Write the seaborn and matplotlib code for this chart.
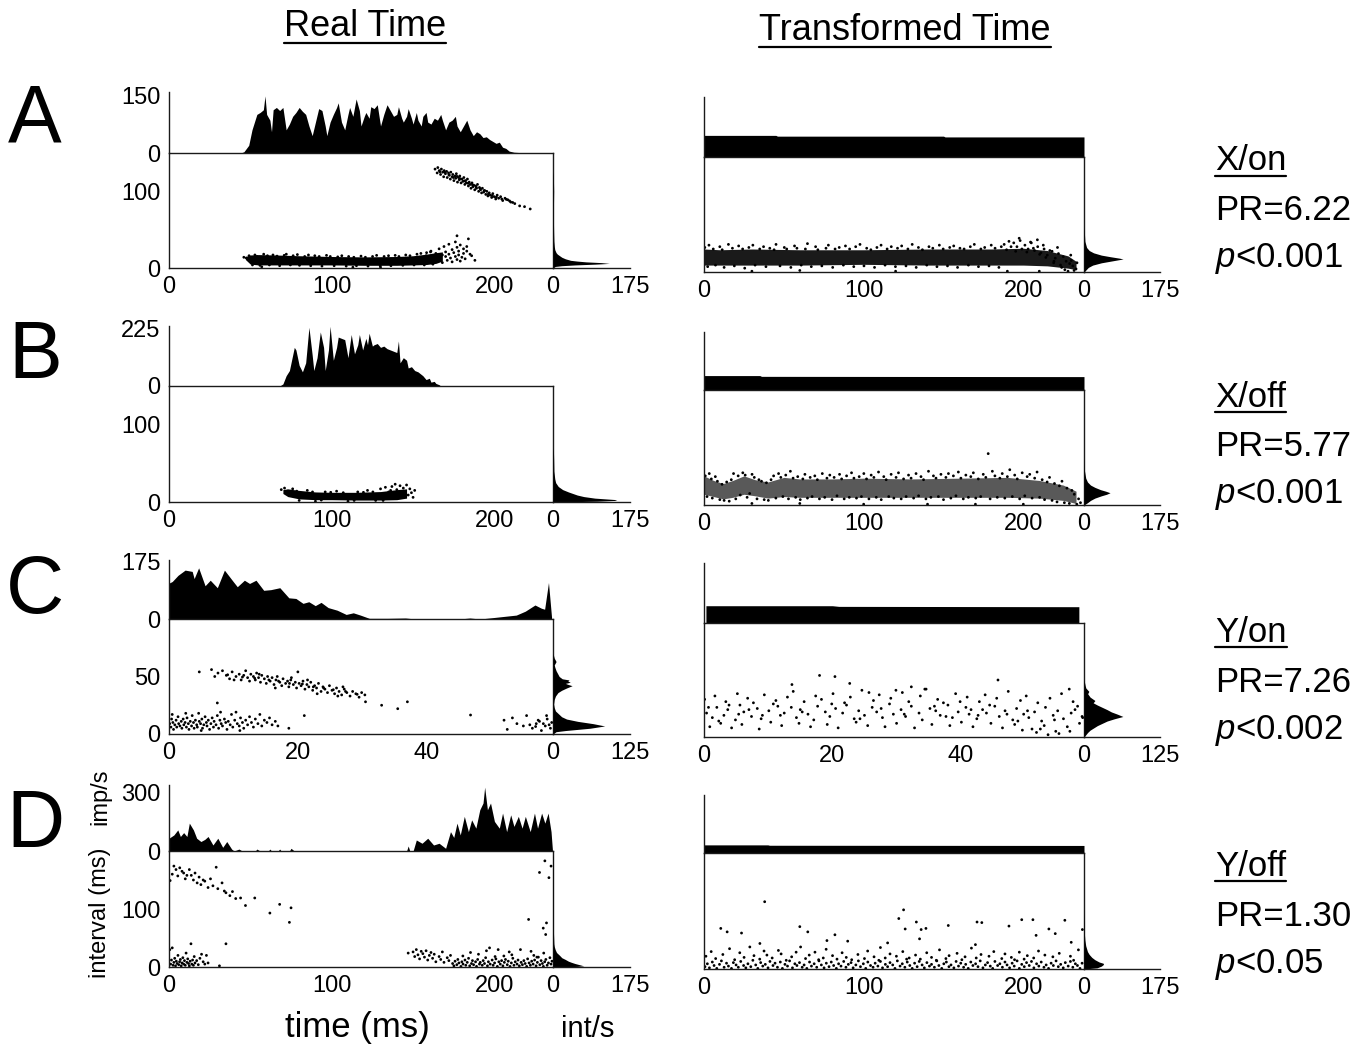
import numpy as np
import matplotlib
matplotlib.use("Agg")
import matplotlib.pyplot as plt
from matplotlib.lines import Line2D
import seaborn as sns

# ---------------- data ----------------
# PSTHs in real time (time ms, rate imp/s)
a_psth_t = [0, 44, 46, 49, 51, 54, 56, 58, 59, 60, 62, 63, 64, 66, 68, 70, 72, 74, 76, 78, 80, 82, 84, 86, 88,
            90, 92, 94, 96, 97, 99, 101, 103, 104, 106, 108, 110, 111, 113, 115, 117, 118, 120, 121, 123, 124,
            126, 128, 130, 132, 134, 136, 138, 140, 141, 143, 144, 146, 147, 149, 150, 152, 153, 155, 156, 158,
            159, 161, 163, 165, 167, 168, 170, 172, 174, 176, 177, 179, 181, 183, 185, 187, 189, 191, 193, 195,
            197, 199, 201, 203, 205, 207, 209, 212, 216, 225, 236]
a_psth_r = [0, 0, 3, 20, 60, 100, 105, 112, 148, 100, 85, 55, 112, 118, 110, 118, 60, 75, 95, 105, 118, 108,
            100, 70, 45, 80, 115, 110, 70, 45, 80, 100, 118, 130, 80, 60, 100, 118, 95, 140, 110, 70, 95, 105,
            90, 120, 115, 125, 70, 100, 125, 110, 95, 100, 120, 90, 80, 95, 115, 90, 75, 105, 85, 70, 95, 105,
            80, 75, 90, 85, 100, 85, 60, 80, 85, 95, 70, 55, 70, 85, 60, 45, 55, 50, 40, 42, 35, 30, 25, 28,
            15, 12, 5, 2, 1, 1, 0]

b_psth_t = [0, 68, 70, 72, 74, 76, 77, 78, 80, 82, 84, 86, 88, 89, 91, 93, 95, 96, 98, 99, 101, 103, 104, 106,
            108, 110, 112, 114, 116, 117, 119, 121, 122, 123, 125, 126, 128, 130, 132, 134, 136, 138, 140, 141,
            142, 144, 146, 147, 149, 151, 153, 154, 156, 158, 160, 161, 163, 164, 166, 167, 236]
b_psth_r = [0, 0, 8, 40, 60, 120, 150, 140, 80, 55, 90, 228, 120, 60, 110, 210, 150, 60, 140, 232, 100, 150,
            190, 185, 180, 110, 200, 125, 160, 200, 140, 185, 160, 205, 155, 160, 165, 150, 155, 145, 140, 135,
            130, 175, 90, 110, 100, 70, 75, 60, 55, 50, 40, 25, 30, 15, 18, 10, 5, 0, 0]

c_psth_t = [0, 0.5, 1.4, 2.5, 3.6, 3.9, 4.6, 5.6, 6.4, 7.5, 8.6, 10, 10.6, 11.7, 12.5, 13.5, 14.7, 15.8, 17.2,
            18.6, 19.7, 20.8, 21.7, 22.7, 23.6, 24.7, 26.1, 27.5, 28.6, 29.7, 31.1, 33.9, 36.7, 38.3, 45, 46.7,
            48.3, 51.1, 53.9, 55.3, 56.8, 57.8, 58.3, 58.9, 59.4]
c_psth_r = [110, 115, 134, 150, 146, 124, 157, 102, 119, 96, 150, 114, 99, 119, 109, 119, 88, 90, 96, 65, 63,
            48, 53, 41, 51, 35, 27, 14, 19, 12, 2, 2, 3, 0, 0, 3, 0, 6, 12, 24, 43, 33, 30, 112, 0]

d_psth_t = [0, 3, 5.4, 7, 9, 11, 12.5, 15, 17, 19.6, 22, 24, 27, 30, 33, 35.5, 38.5, 40, 43, 45, 53, 54, 56, 61,
            62, 63, 67, 68, 69, 74, 75, 77, 146, 147, 148, 150, 152, 155.5, 159, 162.6, 166, 170, 173, 175, 177,
            179, 181.5, 184, 186, 188.6, 191, 193, 194, 195.7, 197.6, 200, 203, 205, 207.5, 210, 212, 214.7,
            217, 219, 222, 224.6, 226.5, 229, 231, 233, 234.8, 235.7]
d_psth_r = [66, 83, 109, 75, 95, 75, 144, 109, 66, 49, 60, 75, 31, 66, 19, 49, 10, 0, 10, 0, 0, 10, 0, 0, 10, 0,
            0, 10, 0, 0, 14, 0, 0, 26, 0, 0, 57, 40, 66, 31, 40, 14, 100, 70, 144, 83, 179, 100, 161, 118, 213,
            248, 330, 213, 248, 153, 118, 196, 100, 187, 127, 179, 118, 179, 100, 196, 118, 196, 144, 196, 100, 0]

# flat PSTHs in transformed time
a_bar_t = [0, 45, 46, 150, 151, 238]
a_bar_r = [56, 56, 54, 54, 52, 52]
b_bar_t = [0, 35, 36, 238]
b_bar_r = [56, 56, 53, 52]
c_bar_t = [0.3, 20, 21, 58.4]
c_bar_r = [53, 53, 51, 50]
d_bar_t = [0, 40, 41, 238]
d_bar_r = [42, 42, 40, 39]

# interval histograms (interval ms, int/s)
a_lm_y = [0, 2, 3, 4, 5, 6, 7, 8, 9, 10, 12, 14, 16, 18, 20, 24, 28, 35, 45, 60, 80, 100, 120, 125]
a_lm_x = [0, 5, 20, 50, 95, 128, 110, 75, 55, 40, 28, 20, 15, 10, 7, 4, 3, 2, 1.5, 1, 1, 1.5, 0.8, 0]
a_rm_y = [0, 3, 6, 9, 12, 14, 16, 17, 18, 20, 22, 25, 28, 32, 40, 60]
a_rm_x = [0, 5, 10, 20, 40, 60, 80, 90, 82, 60, 40, 22, 12, 6, 2, 0]
b_lm_y = [0, 1, 2, 3, 4, 5, 7, 9, 11, 13, 16, 20, 25, 30, 40, 55, 65, 70]
b_lm_x = [0, 100, 140, 145, 120, 95, 70, 55, 45, 35, 22, 12, 6, 4, 2, 1.5, 1, 0]
b_rm_y = [0, 3, 6, 9, 12, 14, 16, 18, 20, 23, 26, 30, 35, 45, 60]
b_rm_x = [0, 8, 15, 25, 40, 52, 60, 50, 38, 25, 15, 8, 4, 1, 0]
c_lm_y = [0, 2, 3, 5, 7, 9, 11, 13, 15, 18, 20, 23, 26, 30, 33, 36, 38, 40, 42, 43, 44, 45, 46, 47, 48, 50,
          52, 55, 58, 60, 63, 66, 70]
c_lm_x = [0, 5, 20, 60, 84, 65, 40, 22, 14, 8, 4, 2, 1, 2, 4, 8, 14, 22, 31, 25, 20, 28, 24, 26, 15, 10, 8, 5,
          3, 2, 5, 2, 0]
c_rm_y = [0, 2, 4, 6, 8, 10, 12, 14, 16, 18, 20, 22, 24, 26, 28, 30, 32, 35, 38, 40, 43, 45, 50]
c_rm_x = [0, 3, 6, 10, 16, 22, 30, 38, 50, 64, 55, 45, 38, 30, 22, 15, 18, 10, 6, 8, 3, 2, 0]
d_lm_y = [0, 1, 2, 4, 6, 8, 10, 13, 16, 20, 25, 30, 35, 40, 60, 100, 150, 190, 195]
d_lm_x = [0, 55, 70, 60, 50, 42, 35, 28, 20, 15, 8, 5, 3, 2, 1, 1, 1, 1, 0]
d_rm_y = [0, 2, 5, 8, 10, 12, 16, 20, 25, 30, 35, 40, 50, 60, 80, 100]
d_rm_x = [0, 30, 40, 45, 44, 35, 25, 18, 12, 8, 6, 4, 2, 1, 1, 0]

# dense cores of the interval clouds (time, lower, upper)
a_lt_band_x = [47, 50, 55, 65, 80, 100, 120, 140, 150, 158, 164, 168]
a_lt_band_lo = [11, 5, 4, 4, 4, 4, 3.5, 3.5, 4, 4.5, 6, 9]
a_lt_band_hi = [15, 17, 17.5, 17, 16, 15, 14.5, 15, 16, 18, 20, 21]
a_rt_band_x = [0, 10, 30, 60, 100, 140, 180, 200, 215, 228, 233]
a_rt_band_lo = [9, 9, 9, 9, 10, 9, 9, 9, 8, 5, 3]
a_rt_band_hi = [30, 29, 30, 29, 29, 30, 30, 31, 28, 21, 14]
b_lt_band_x = [70, 73, 80, 90, 100, 115, 130, 140, 146]
b_lt_band_lo = [11, 7, 4, 3, 3, 2.5, 2.5, 3, 5]
b_lt_band_hi = [16, 17, 15, 13, 12.5, 12.5, 13.5, 16, 17]
b_rt_band_x = [0, 6, 12, 18, 25, 32, 40, 50, 60, 80, 100, 130, 160, 190, 210, 225, 233]
b_rt_band_lo = [14, 11, 8, 10, 14, 12, 9, 11, 10, 10, 10, 10, 10, 10, 9, 6, 2]
b_rt_band_hi = [38, 32, 28, 32, 38, 33, 30, 36, 34, 34, 35, 34, 35, 36, 32, 26, 18]

# individual intervals (time, interval)
a_lt_pts = [(47.5, 13), (49.2, 16), (51.3, 4), (52.8, 17), (54.1, 15), (55.9, 3.5), (58.2, 18), (60.5, 16),
            (61.7, 4), (63.9, 17), (66.4, 15.5), (68.0, 3), (70.8, 16.5), (72.1, 18), (74.6, 4), (76.3, 16),
            (78.9, 17.5), (80.2, 3.5), (83.4, 15), (85.7, 17), (87.1, 3), (89.6, 16), (92.3, 15), (94.0, 2.5),
            (96.8, 16.5), (99.1, 15), (101.5, 3), (103.7, 14.5), (106.2, 16), (108.9, 2.5), (110.4, 15),
            (113.6, 14), (115.2, 3), (118.0, 15.5), (120.7, 14), (122.3, 2.5), (125.1, 15), (127.6, 16.5),
            (129.8, 3), (132.2, 15), (134.9, 16), (136.4, 3), (139.0, 16.5), (141.3, 15), (143.7, 3.5),
            (145.5, 17), (148.1, 16), (150.6, 4), (152.4, 18), (154.8, 19), (156.9, 4), (158.3, 20),
            (160.7, 21), (162.2, 5), (46, 14), (57, 1.5), (130, 1), (113, 1),
            (155, 12), (157, 8), (158, 16), (160, 10), (161, 22), (162, 6), (163, 14), (164, 19), (165, 9),
            (166, 25), (167, 12), (168, 17), (168, 7), (169, 28), (170, 15), (170, 21), (171, 10), (172, 18),
            (172, 31), (173, 13), (174, 24), (174, 8), (175, 20), (176, 15), (176, 34), (177, 11), (177, 27),
            (177, 42), (178, 22), (178, 17), (179, 9), (179, 30), (180, 14), (181, 25), (181, 19), (182, 12),
            (183, 22), (184, 38), (185, 18), (186, 16), (183, 28), (188, 10),
            (163.5, 129), (164.8, 124), (165.2, 131), (166.1, 127), (166.9, 122), (167.4, 129), (168.2, 125),
            (168.8, 119), (169.1, 127), (169.9, 123), (170.6, 126), (171.0, 118), (171.8, 124), (172.3, 121),
            (172.9, 116), (173.2, 125), (174.0, 119), (174.4, 122), (175.1, 114), (175.7, 120), (176.2, 117),
            (176.6, 123), (177.3, 112), (177.9, 118), (178.4, 115), (178.7, 120), (179.5, 111), (180.1, 116),
            (180.6, 113), (181.2, 118), (181.8, 109), (182.3, 114), (182.7, 111), (183.4, 116), (184.0, 107),
            (184.5, 112), (185.1, 109), (185.6, 104), (186.2, 111), (186.8, 106), (187.3, 108), (187.9, 102),
            (188.5, 107), (189.0, 104), (189.6, 109), (190.3, 100), (190.8, 105), (191.5, 102), (192.1, 98),
            (192.6, 104), (193.4, 99), (194.0, 101), (194.7, 96), (195.3, 100), (196.0, 94), (196.8, 98),
            (197.5, 95), (198.3, 92), (199.0, 97), (199.9, 93), (200.8, 90), (201.7, 95), (202.6, 91),
            (203.8, 93), (205.1, 88), (206.5, 91), (208.2, 89), (210.0, 86), (212.5, 84), (215.5, 81),
            (218.5, 80), (222, 77), (166.5, 125.5), (169.5, 125), (172, 121.5), (174.8, 118), (177, 119.5),
            (179, 116.5), (181.5, 113.5), (183.8, 110.5), (186.5, 108.5), (188.8, 105.5), (191.2, 103.5),
            (193.7, 101), (196.3, 96.5), (198.7, 94.5), (201.2, 92.5), (204.5, 90), (207.3, 89.5),
            (209.3, 87.5), (211.2, 85.5)]
a_rt_pts = [(0.5, 32), (2.3, 7), (3.1, 35), (5.8, 30), (7.2, 9), (9.9, 33), (11.4, 29), (12.6, 6), (15.3, 36),
            (17.8, 31), (19.0, 8), (21.7, 34), (24.2, 30), (25.5, 5), (28.1, 32), (30.6, 35), (32.0, 9),
            (34.9, 30), (37.3, 33), (38.8, 7), (41.2, 31), (43.9, 29), (45.1, 36), (47.6, 8), (50.3, 32),
            (51.8, 30), (54.4, 6), (56.7, 34), (58.2, 31), (60.9, 9), (63.5, 30), (64.8, 37), (67.2, 7),
            (69.9, 33), (71.3, 29), (73.8, 8), (76.4, 31), (77.9, 35), (80.6, 6), (82.1, 30), (84.7, 32),
            (87.3, 9), (88.6, 34), (91.2, 30), (93.8, 7), (95.0, 33), (97.7, 36), (100.2, 8), (101.9, 31),
            (104.5, 29), (106.8, 6), (108.3, 32), (110.9, 35), (113.4, 9), (114.7, 30), (117.3, 33), (119.9, 7),
            (121.2, 31), (123.8, 34), (126.5, 8), (127.7, 30), (130.4, 36), (132.9, 6), (134.3, 32), (136.8, 29),
            (139.5, 9), (140.9, 33), (143.3, 31), (145.9, 7), (147.4, 35), (149.8, 30), (152.5, 8), (153.9, 32),
            (156.4, 34), (158.8, 6), (160.3, 31), (162.9, 30), (165.6, 9), (166.8, 33), (169.3, 36), (171.9, 7),
            (173.4, 30), (175.8, 32), (178.5, 8), (179.9, 35), (182.3, 31), (184.7, 6), (186.2, 33),
            (188, 36), (189.5, 29), (191, 40), (192.3, 33), (194, 38), (195.2, 27), (196, 33), (197.4, 44),
            (198, 41), (199.1, 30), (201, 35), (202.2, 26), (203, 30), (204.5, 39), (205, 38), (206.3, 31),
            (207, 28), (208.8, 42), (209, 33), (210.2, 23), (211, 25), (212.5, 35), (213, 30), (214.1, 19),
            (215, 22), (216.6, 28), (218, 27), (219.2, 14), (220, 18), (221.4, 32), (222, 24), (223.3, 9),
            (224, 6), (225, 20), (226, 3), (226.8, 14), (228, 1), (229, 11), (229.7, 22), (230, 15), (231, 8),
            (231.8, 2), (233, 4), (233.6, 12), (219, 12), (120, 1), (190, 1), (210, 1), (60, 2), (30, 1)]
b_lt_pts = [(69, 16), (71, 18), (73, 14), (76, 17), (80, 2), (85, 15), (90, 1), (96, 13), (103, 14), (110, 1),
            (116, 13), (122, 15), (127, 2), (130, 17), (133, 19), (135, 13), (137, 20), (138, 9), (139, 23),
            (140, 16), (141, 11), (142, 21), (143, 7), (144, 18), (145, 13), (146, 22), (147, 9), (148, 17),
            (149, 12), (150, 6), (151, 15), (78.5, 14), (88.2, 13), (93.6, 2.5), (99.4, 12.5), (107.1, 12),
            (113.8, 2), (119.5, 12.5), (125.3, 13), (131.6, 2), (136.2, 15)]
b_rt_pts = [(0.8, 38), (1.9, 11), (3.3, 41), (4.6, 34), (5.2, 9), (7.1, 37), (8.4, 31), (9.9, 7), (11.3, 27),
            (12.6, 6), (14.2, 30), (15.8, 5), (17.1, 33), (18.5, 41), (19.9, 8), (21.4, 38), (22.7, 13),
            (24.3, 42), (25.8, 39), (27.0, 10), (28.6, 15), (30.1, 40), (31.5, 36), (33.2, 8), (34.4, 33),
            (36.0, 31), (37.7, 7), (39.1, 29), (40.3, 6), (42.0, 33), (43.6, 38), (45.0, 9), (46.7, 41),
            (48.1, 36), (49.4, 11), (51.2, 39), (52.9, 8), (54.1, 44), (55.8, 35), (57.4, 10), (58.7, 37),
            (60.3, 7), (61.9, 34), (63.2, 40), (64.8, 9), (66.5, 36), (67.7, 11), (69.4, 38), (71.0, 33),
            (72.3, 8), (74.1, 41), (75.6, 10), (77.0, 35), (78.8, 39), (80.2, 7), (81.5, 36), (83.3, 12),
            (84.9, 40), (86.2, 34), (87.8, 8), (89.3, 38), (91.0, 10), (92.4, 42), (93.9, 35), (95.5, 9),
            (97.2, 37), (98.6, 11), (100.1, 41), (101.8, 34), (103.3, 8), (104.7, 39), (106.4, 36), (107.9, 10),
            (109.3, 43), (111.0, 7), (112.6, 37), (114.1, 33), (115.7, 11), (117.2, 40), (118.9, 9), (120.3, 36),
            (121.8, 42), (123.5, 8), (125.0, 34), (126.6, 11), (128.1, 39), (129.7, 35), (131.3, 9), (132.8, 41),
            (134.4, 12), (135.9, 37), (137.5, 33), (139.0, 8), (140.6, 44), (142.1, 10), (143.7, 38),
            (145.3, 35), (146.8, 11), (148.4, 40), (150.0, 7), (151.5, 36), (153.1, 41), (154.6, 9), (156.2, 38),
            (157.8, 12), (159.3, 43), (160.9, 35), (162.4, 8), (164.0, 39), (165.6, 10), (167.1, 37),
            (168.7, 42), (170.2, 9), (171.8, 34), (173.3, 11), (174.9, 40), (176.5, 36), (178.0, 67), (179.2, 8),
            (180.6, 44), (182.2, 38), (183.7, 10), (185.3, 35), (186.8, 41), (188.4, 9), (190.0, 37),
            (191.5, 46), (193.1, 11), (194.6, 39), (196.2, 34), (197.7, 8), (199.3, 42), (200.9, 12),
            (202.4, 37), (204.0, 40), (205.5, 9), (207.1, 35), (208.6, 43), (210.2, 10), (211.8, 33), (213.3, 7),
            (214.9, 30), (216.4, 36), (218.0, 6), (219.5, 28), (221.1, 4), (222.6, 25), (224.2, 31), (225.7, 3),
            (227.3, 22), (228.8, 2), (230.4, 19), (231.9, 14), (233.5, 1), (234.6, 8), (235.8, 3), (60, 2),
            (100, 1), (140, 1), (200, 1), (30, 2), (170, 1)]
c_lt_pts = [(4.7, 54), (6.6, 56), (7.1, 50), (7.6, 53), (8.3, 55), (8.9, 51), (9.4, 48), (9.8, 54), (10.4, 50),
            (10.9, 52), (11.2, 47), (11.6, 51), (11.9, 55), (12.2, 49), (12.5, 46), (12.7, 52), (13.1, 50),
            (13.4, 47), (13.6, 53), (13.9, 49), (14.2, 45), (14.4, 51), (14.8, 48), (15.1, 44), (15.3, 50),
            (15.7, 46), (16.0, 49), (16.3, 43), (16.6, 47), (16.8, 50), (17.2, 45), (17.5, 42), (17.7, 48),
            (18.1, 44), (18.4, 46), (18.6, 41), (18.9, 47), (19.3, 43), (19.6, 45), (19.8, 40), (20.0, 54),
            (20.2, 44), (20.5, 42), (20.8, 46), (21.1, 39), (21.4, 43), (21.7, 41), (22.0, 45), (22.3, 38),
            (22.6, 42), (22.9, 40), (23.2, 44), (23.6, 37), (23.9, 41), (24.2, 39), (24.6, 36), (24.9, 42),
            (25.3, 38), (25.7, 35), (26.0, 40), (26.4, 37), (26.8, 34), (27.2, 39), (27.6, 36), (28.1, 33),
            (28.5, 37), (29.0, 35), (29.5, 32), (29.9, 36), (30.4, 34), (30.5, 28), (33.0, 25), (35.5, 22),
            (37.0, 28), (46.8, 16.5), (7.5, 27), (21, 16), (18.6, 5),
            (9.1, 51.5), (11.4, 49.5), (13.3, 48.5), (15.5, 47), (17.0, 46), (18.7, 44), (20.7, 43.5),
            (22.4, 41), (24.0, 40), (25.5, 38.5), (27.4, 37), (29.2, 34.5), (10.1, 47), (14.0, 52), (19.0, 49),
            (23.0, 35), (27.0, 41), (16.5, 40), (21.5, 47), (26.2, 33),
            (0.1, 9), (0.3, 6), (0.4, 13), (0.6, 10), (0.7, 4), (0.9, 8), (1.1, 12), (1.2, 6), (1.4, 15),
            (1.5, 9), (1.7, 7), (1.9, 11), (2.0, 5), (2.2, 13), (2.3, 8), (2.5, 10), (2.7, 6), (2.8, 14), (3.0, 9),
            (3.1, 4), (3.3, 11), (3.5, 7), (3.6, 16), (3.8, 10), (3.9, 5), (4.1, 12), (4.3, 8), (4.4, 6),
            (4.6, 18), (4.7, 11), (4.9, 9), (5.1, 13), (5.2, 5), (5.4, 8), (5.6, 15), (5.8, 10), (5.9, 7),
            (6.1, 12), (6.3, 4), (6.5, 9), (6.7, 14), (6.9, 6), (7.0, 11), (7.3, 8), (7.5, 16), (7.7, 5),
            (7.9, 12), (8.1, 9), (8.3, 7), (8.6, 13), (8.8, 10), (9.0, 4), (9.2, 11), (9.5, 8), (9.7, 17),
            (9.9, 6), (10.2, 12), (10.4, 19), (10.6, 9), (10.9, 7), (11.1, 14), (11.4, 10), (11.6, 5), (11.9, 12),
            (12.2, 8), (12.5, 15), (12.8, 10), (13.1, 6), (13.4, 13), (13.8, 9), (14.1, 17), (14.4, 7),
            (14.8, 12), (15.2, 10), (15.6, 14), (16.0, 8), (16.5, 11), (16.9, 7), (0.5, 17), (2.6, 18), (5.0, 3),
            (8.0, 19), (11.0, 3),
            (52, 12), (52.5, 4), (53.3, 14), (54, 9), (55, 7), (55.5, 16), (56, 8), (56.4, 5), (56.9, 6.5),
            (57.3, 12), (57.5, 11), (57.8, 3), (58.1, 9), (58.4, 7), (58.7, 13), (59, 8), (59.2, 5), (59.4, 10),
            (58.6, 16), (57, 9)]
c_rt_pts = [(0.4, 21), (1.3, 17), (2.0, 26), (3.1, 19), (3.7, 24), (4.9, 15), (5.6, 28), (6.2, 22), (7.4, 18),
            (8.3, 25), (8.9, 16), (10.1, 23), (10.8, 29), (11.9, 19), (12.5, 21), (13.6, 26), (14.4, 17),
            (15.0, 24), (16.2, 20), (17.1, 15), (17.7, 27), (18.9, 22), (19.6, 18), (20.5, 25), (21.6, 21),
            (22.2, 28), (23.4, 16), (24.1, 23), (25.0, 19), (26.2, 26), (26.9, 22), (27.8, 17), (28.9, 29),
            (29.5, 20), (30.7, 24), (31.4, 18), (32.3, 27), (33.5, 21), (34.0, 15), (35.2, 25), (36.1, 23),
            (36.8, 19), (38.0, 28), (38.7, 17), (39.6, 22), (40.8, 26), (41.3, 20), (42.5, 16), (43.4, 24),
            (44.0, 21), (45.3, 27), (46.0, 18), (46.9, 23), (48.1, 15), (48.7, 25), (49.8, 20), (50.6, 17),
            (51.5, 22), (52.6, 14), (53.2, 26), (54.4, 19), (55.1, 23), (56.0, 16), (57.2, 21), (57.8, 24),
            (58.9, 18),
            (0.1, 33), (0.9, 9), (1.7, 36), (2.6, 12), (3.4, 31), (4.3, 8), (5.2, 38), (5.9, 11), (6.8, 34),
            (7.7, 30), (8.6, 7), (9.4, 37), (10.4, 13), (11.2, 32), (12.1, 10), (13.0, 35), (13.9, 40), (14.8, 12),
            (15.6, 31), (16.6, 9), (17.4, 36), (18.3, 33), (19.2, 11), (20.1, 38), (20.9, 8), (21.9, 30),
            (22.8, 35), (23.7, 13), (24.6, 41), (25.5, 10), (26.4, 32), (27.3, 37), (28.2, 9), (29.1, 34),
            (30.0, 12), (30.9, 39), (31.9, 31), (32.8, 8), (33.7, 36), (34.6, 42), (35.5, 11), (36.4, 33),
            (37.3, 30), (38.3, 10), (39.2, 38), (40.1, 13), (41.0, 35), (41.9, 9), (42.9, 31), (43.8, 37),
            (44.7, 12), (45.6, 34), (46.5, 8), (47.4, 40), (48.4, 11), (49.3, 32), (50.2, 36), (51.1, 7),
            (52.0, 30), (53.0, 10), (53.9, 34), (54.8, 5), (55.7, 38), (56.6, 9), (57.5, 31), (58.5, 12),
            (0.7, 26), (2.3, 14), (3.9, 28), (5.4, 20), (7.0, 24), (9.1, 19), (11.5, 27), (13.7, 46), (15.3, 22),
            (18.0, 54), (19.9, 29), (20.4, 53), (22.7, 47), (24.3, 16), (25.7, 39), (27.6, 25), (29.9, 41),
            (31.2, 20), (32.3, 44), (34.4, 42), (35.9, 27), (37.7, 18), (39.9, 31), (41.6, 24), (42.7, 19),
            (44.5, 28), (45.8, 50), (47.2, 20), (48.9, 14), (50.4, 23), (51.8, 4), (53.6, 2), (54.6, 15),
            (56.9, 42), (58.2, 27), (59.0, 17), (52.4, 7), (55.3, 3), (49.6, 6), (57.0, 5)]
d_lt_pts = [(0.7, 149), (2, 160), (3, 174), (4.3, 168), (5.4, 157), (6.6, 171), (8, 165), (9, 162), (10, 152),
            (11, 158), (12.5, 168), (13.7, 158), (15, 150), (16, 162), (17.3, 145), (18.5, 155), (19.6, 142),
            (21, 150), (22, 148), (24, 137), (25.5, 152), (27, 140), (29, 172), (30, 135), (32.6, 145),
            (34, 131), (35, 128), (37.4, 123), (39, 130), (41, 118), (44, 119), (47, 106), (52.7, 119),
            (62, 93), (68, 108), (75, 102), (74, 77),
            (0.5, 30), (1, 5), (1.5, 12), (2, 33), (2.5, 3), (3, 8), (3.5, 15), (4, 2), (4.5, 10), (5, 6),
            (5.5, 20), (6, 4), (6.5, 9), (7, 13), (7.5, 2), (8, 7), (8.5, 16), (9, 5), (9.5, 11), (10, 3),
            (10.5, 24), (11, 8), (11.5, 14), (12, 6), (12.5, 2), (13, 10), (13.5, 40), (14, 5), (14.5, 12),
            (15, 3), (15.5, 18), (16, 7), (17, 11), (18, 4), (19, 15), (20, 22), (21, 9), (22, 5), (23, 20),
            (24, 7), (35, 40), (31, 2),
            (147, 24), (150, 26), (151, 18), (152, 30), (153, 21), (154, 14), (155, 27), (156, 23), (157, 17),
            (158, 28), (159, 12), (160, 20), (161, 25), (162, 15), (163, 22), (164, 9), (166, 18), (167, 13),
            (168, 26), (169, 8), (171, 16), (172, 11), (173, 20),
            (174.3, 6), (175.1, 2), (175.8, 10), (176.9, 4), (177.5, 13), (178.2, 7), (179.4, 1), (180.0, 9),
            (180.7, 5), (181.9, 12), (182.4, 3), (183.3, 8), (184.1, 15), (184.8, 2), (185.9, 6), (186.5, 11),
            (187.2, 4), (188.4, 9), (189.0, 1), (189.7, 13), (190.8, 5), (191.3, 8), (192.5, 3), (193.1, 11),
            (193.9, 6), (194.6, 16), (195.7, 2), (196.3, 9), (197.0, 33), (197.4, 5), (198.6, 12), (199.2, 3),
            (200.1, 7), (200.9, 14), (201.8, 1), (202.3, 30), (202.7, 9), (203.6, 5), (204.4, 11), (205.2, 2),
            (206.1, 8), (206.8, 13), (207.9, 4), (208.5, 10), (209.1, 26), (209.6, 1), (210.4, 7), (211.3, 15),
            (212.0, 3), (212.8, 9), (213.9, 5), (214.5, 12), (215.3, 2), (216.0, 30), (216.4, 8), (217.2, 4),
            (218.1, 11), (218.9, 6), (219.8, 1), (220.4, 14), (221.3, 7), (222.1, 3), (222.9, 10), (223.8, 5),
            (224.2, 20), (224.7, 12), (225.6, 2), (226.4, 8), (227.0, 17), (227.9, 4), (228.7, 11), (229.5, 6),
            (230.1, 1), (230.9, 9), (231.6, 13), (232.4, 3), (233.2, 7), (234.1, 16), (234.8, 5), (235.4, 10),
            (190.2, 22), (185.3, 25), (200.4, 18), (210.7, 21), (180.6, 19), (230.3, 24), (222.5, 27),
            (226.1, 17), (195.1, 28), (205.8, 19),
            (221, 82), (227.7, 163), (230, 67), (231, 183), (231.5, 56), (232, 76), (233.5, 154), (234.8, 174)]
d_rt_pts = [(0.6, 4), (2.1, 9), (3.4, 2), (5.2, 12), (6.3, 6), (8.0, 1), (9.7, 8), (10.9, 14), (12.6, 3),
            (14.1, 10), (15.3, 5), (17.2, 1), (18.4, 11), (20.1, 7), (21.5, 3), (23.0, 13), (24.8, 6), (26.2, 2),
            (27.5, 9), (29.3, 4), (30.6, 15), (32.4, 7), (33.7, 1), (35.5, 11), (36.8, 5), (38.4, 8), (40.1, 2),
            (41.3, 13), (43.2, 6), (44.5, 10), (46.0, 3), (47.8, 12), (49.1, 1), (50.7, 8), (52.3, 5), (53.6, 14),
            (55.4, 2), (56.9, 9), (58.2, 6), (59.8, 11), (61.5, 3), (62.7, 7), (64.4, 1), (66.1, 12), (67.3, 5),
            (69.0, 9), (70.6, 3), (72.0, 14), (73.5, 7), (75.2, 2), (76.6, 10), (78.3, 4), (79.7, 12), (81.2, 6),
            (82.9, 1), (84.3, 9), (85.8, 5), (87.5, 13), (88.9, 3), (90.4, 8), (92.1, 11), (93.4, 2), (95.1, 7),
            (96.7, 14), (98.0, 4), (99.8, 9), (101.3, 1), (102.6, 12), (104.3, 6), (105.9, 3), (107.2, 10),
            (108.9, 5), (110.5, 13), (111.8, 2), (113.6, 8), (115.0, 4), (116.5, 11), (118.2, 7), (119.6, 1),
            (121.1, 14), (122.8, 5), (124.2, 9), (125.8, 3), (127.3, 12), (128.9, 6), (130.4, 1), (131.9, 10),
            (133.5, 4), (134.8, 13), (136.6, 7), (138.0, 2), (139.6, 11), (141.2, 5), (142.5, 8), (144.3, 3),
            (145.8, 14), (147.1, 6), (148.9, 1), (150.2, 9), (151.8, 12), (153.4, 4), (154.7, 7), (156.5, 2),
            (157.9, 13), (159.4, 5), (160.8, 10), (162.6, 3), (163.9, 8), (165.5, 1), (167.1, 12), (168.4, 6),
            (170.1, 9), (171.6, 4), (173.0, 14), (174.7, 2), (176.2, 7), (177.6, 11), (179.3, 5), (180.8, 1),
            (182.2, 13), (183.9, 6), (185.3, 9), (186.9, 3), (188.5, 12), (189.8, 7), (191.4, 2), (193.0, 10),
            (194.3, 5), (196.1, 14), (197.5, 1), (199.0, 8), (200.6, 4), (202.0, 11), (203.7, 6), (205.1, 13),
            (206.6, 2), (208.3, 9), (209.7, 5), (211.2, 12), (212.9, 3), (214.3, 7), (215.8, 1), (217.4, 10),
            (218.8, 6), (220.5, 14), (221.9, 4), (223.4, 8), (225.0, 2), (226.3, 11), (228.1, 5), (229.5, 13),
            (231.0, 3), (232.6, 9), (233.9, 6), (235.5, 1), (236.8, 10),
            (1.2, 22), (4.5, 30), (7.3, 18), (11.8, 25), (16.0, 35), (19.2, 16), (22.4, 28), (25.1, 20),
            (28.7, 38), (31.3, 23), (34.9, 17), (37.6, 31), (39.4, 24), (42.7, 19), (46.6, 32), (48.3, 26),
            (51.5, 15), (54.9, 21), (57.7, 29), (60.5, 38), (63.6, 18), (65.9, 24), (69.5, 29), (71.8, 16),
            (74.7, 19), (76.5, 34), (80.5, 23), (83.3, 17), (86.5, 28), (89.1, 20), (92.5, 16), (96.4, 25),
            (100.5, 18), (102.5, 31), (106.5, 21), (109.5, 15), (110.5, 37), (113.5, 19), (116.5, 26),
            (120.5, 22), (124.5, 30), (126.9, 17), (128.5, 19), (132.5, 24), (135.5, 17), (139.5, 28),
            (142.5, 20), (145.5, 15), (147.5, 33), (151.5, 18), (153.5, 23), (158.5, 27), (161.5, 16),
            (163.5, 21), (167.5, 36), (170.5, 19), (173.5, 25), (178.5, 22), (181.5, 30), (186.5, 18),
            (188.5, 26), (192.5, 20), (194.5, 16), (197.5, 29), (200.5, 17), (202.5, 23), (206.5, 19),
            (209.5, 31), (213.5, 24), (218.5, 21), (222.5, 27), (229.5, 22), (231.5, 15), (234.5, 33),
            (10.5, 70), (14.5, 64), (23.5, 62), (38, 116), (60, 73), (65, 64), (77, 49), (82, 59), (122, 87),
            (125, 102), (126, 69), (133, 81), (136, 68), (139, 70), (153, 75), (171, 81), (174, 80), (191, 74),
            (199, 85), (206, 85), (208, 58), (216, 69), (220, 61), (226, 84), (237, 68), (115, 45), (135, 52),
            (90, 48), (35, 44), (170, 42), (230, 46)]

cell_names = ["X/on", "X/off", "Y/on", "Y/off"]
pr_values = ["6.22", "5.77", "7.26", "1.30"]
p_values = ["0.001", "0.001", "0.002", "0.05"]

# ---------------- style ----------------
sns.set_theme(style="white")
plt.rcParams['font.family'] = ['Liberation Sans', 'DejaVu Sans']
plt.rcParams['mathtext.fontset'] = 'custom'
plt.rcParams['mathtext.it'] = 'Liberation Sans:italic'
plt.rcParams['mathtext.rm'] = 'Liberation Sans'
plt.rcParams['text.color'] = 'black'
plt.rcParams['axes.labelcolor'] = 'black'
plt.rcParams['xtick.color'] = 'black'
plt.rcParams['ytick.color'] = 'black'

W, H = 1367, 1047
LC = '0.1'
LW = 1.0
TICK_FS = 17
fig = plt.figure(figsize=(W / 100, H / 100), dpi=100)


def add_ax(x0, y0, x1, y1):
    # pixel box (top-left origin) -> figure axes
    ax = fig.add_axes([x0 / W, 1 - y1 / H, (x1 - x0) / W, (y1 - y0) / H])
    ax.patch.set_alpha(0)
    for s in ax.spines.values():
        s.set_color(LC)
        s.set_linewidth(LW)
    ax.tick_params(direction='out', length=4, width=LW, color=LC, labelsize=TICK_FS, pad=2)
    return ax


def psth_panel(ax, t, r, xmax, ymax, tick):
    ax.fill_between(t, 0, r, color='black', lw=0)
    ax.set_xlim(0, xmax)
    ax.set_ylim(0, ymax)
    for s in ['top', 'right', 'bottom']:
        ax.spines[s].set_visible(False)
    ax.set_xticks([])
    ax.set_yticks([0, tick] if tick else [])


def scatter_panel(ax, bands, pts, xmax, ymax, xticks, yticks, labels):
    for bx, lo, hi, col in bands:
        ax.fill_between(bx, lo, hi, color=col, lw=0)
    xy = np.array(pts)
    sns.scatterplot(x=xy[:, 0], y=xy[:, 1], ax=ax, s=4, color='black', linewidth=0,
                    edgecolor='none', legend=False)
    ax.set_xlim(0, xmax)
    ax.set_ylim(0, ymax)
    ax.set_xticks(xticks)
    ax.set_yticks(yticks)
    if not labels:
        ax.set_yticklabels([])


def marg_panel(ax, y, x, ymax, xmax):
    ax.fill_betweenx(y, 0, x, color='black', lw=0)
    ax.set_xlim(0, xmax)
    ax.set_ylim(0, ymax)
    for s in ['top', 'right', 'left']:
        ax.spines[s].set_visible(False)
    ax.set_xticks([0, xmax])
    ax.set_yticks([])


LX = (169, 553, 630)
RX = (704, 1084, 1160)
rows = [
    dict(L=(92, 153, 268), R=(97, 157, 272), xl=236, xr=238, xt=[0, 100, 200],
         psth=(a_psth_t, a_psth_r), pmax=158, ptick=150, bar=(a_bar_t, a_bar_r), smax=150,
         lyt=[0, 100], ryt=[0, 50, 100, 150],
         lb=[(a_lt_band_x, a_lt_band_lo, a_lt_band_hi, 'black')], lp=a_lt_pts,
         rb=[(a_rt_band_x, a_rt_band_lo, a_rt_band_hi, '0.1')], rp=a_rt_pts,
         lm=(a_lm_y, a_lm_x), rm=(a_rm_y, a_rm_x), mmax=175),
    dict(L=(326, 386, 502), R=(332, 390, 505), xl=236, xr=238, xt=[0, 100, 200],
         psth=(b_psth_t, b_psth_r), pmax=233, ptick=225, bar=(b_bar_t, b_bar_r), smax=150,
         lyt=[0, 100], ryt=[0, 50, 100, 150],
         lb=[(b_lt_band_x, b_lt_band_lo, b_lt_band_hi, 'black')], lp=b_lt_pts,
         rb=[(b_rt_band_x, b_rt_band_lo, b_rt_band_hi, '0.35')], rp=b_rt_pts,
         lm=(b_lm_y, b_lm_x), rm=(b_rm_y, b_rm_x), mmax=175),
    dict(L=(560, 619, 734), R=(563, 623, 737), xl=59.6, xr=59.2, xt=[0, 20, 40],
         psth=(c_psth_t, c_psth_r), pmax=181, ptick=175, bar=(c_bar_t, c_bar_r), smax=100,
         lyt=[0, 50], ryt=[0, 25, 50, 75, 100],
         lb=[], lp=c_lt_pts, rb=[], rp=c_rt_pts,
         lm=(c_lm_y, c_lm_x), rm=(c_rm_y, c_rm_x), mmax=125),
    dict(L=(785, 851, 967), R=(795, 853, 969), xl=236, xr=238, xt=[0, 100, 200],
         psth=(d_psth_t, d_psth_r), pmax=341, ptick=300, bar=(d_bar_t, d_bar_r), smax=200,
         lyt=[0, 100], ryt=[0, 50, 100, 150, 200],
         lb=[], lp=d_lt_pts, rb=[], rp=d_rt_pts,
         lm=(d_lm_y, d_lm_x), rm=(d_rm_y, d_rm_x), mmax=175),
]

letters = "ABCD"
letter_y = [121, 357, 592, 826]
underlined = []

for i, row in enumerate(rows):
    lt, lbase, lbot = row['L']
    rt, rbase, rbot = row['R']
    px_per_unit = (lbase - lt) / row['pmax']

    # real time
    ax = add_ax(LX[0], lt, LX[1], lbase)
    psth_panel(ax, *row['psth'], row['xl'], row['pmax'], row['ptick'])
    ax = add_ax(LX[0], lbase, LX[1], lbot)
    scatter_panel(ax, row['lb'], row['lp'], row['xl'], row['smax'], row['xt'], row['lyt'], True)
    axm = add_ax(LX[1], lbase, LX[2], lbot)
    marg_panel(axm, *row['lm'], row['smax'], row['mmax'])

    # transformed time
    ax = add_ax(RX[0], rt, RX[1], rbase)
    psth_panel(ax, *row['bar'], row['xr'], (rbase - rt) / px_per_unit, None)
    ax = add_ax(RX[0], rbase, RX[1], rbot)
    scatter_panel(ax, row['rb'], row['rp'], row['xr'], row['smax'], row['xt'], row['ryt'], False)
    axm = add_ax(RX[1], rbase, RX[2], rbot)
    marg_panel(axm, *row['rm'], row['smax'], row['mmax'])

    fig.text(35 / W, 1 - letter_y[i] / H, letters[i], fontsize=58, ha='center', va='center')

    ty = letter_y[i] + 40
    t = fig.text(1215 / W, 1 - ty / H, cell_names[i], fontsize=25, ha='left', va='center')
    underlined.append(t)
    fig.text(1215 / W, 1 - (ty + 50) / H, "PR=" + pr_values[i], fontsize=25, ha='left', va='center')
    fig.text(1215 / W, 1 - (ty + 98) / H, "$p$<" + p_values[i], fontsize=25, ha='left', va='center')

fig.text(100 / W, 1 - 797 / H, "imp/s", fontsize=17, rotation=90, ha='center', va='center')
fig.text(100 / W, 1 - 913 / H, "interval (ms)", fontsize=17, rotation=90, ha='center', va='center')
fig.text(357 / W, 1 - 1028 / H, "time (ms)", fontsize=25, ha='center', va='center')
fig.text(588 / W, 1 - 1029 / H, "int/s", fontsize=21, ha='center', va='center')
underlined.append(fig.text(365 / W, 1 - 27 / H, "Real Time", fontsize=26, ha='center', va='center'))
underlined.append(fig.text(905 / W, 1 - 31 / H, "Transformed Time", fontsize=26, ha='center', va='center'))

fig.canvas.draw()
for t in underlined:
    bb = t.get_window_extent()
    y = bb.y0 + 2
    fig.add_artist(Line2D([bb.x0 / W, bb.x1 / W], [y / H, y / H], transform=fig.transFigure,
                          color='black', lw=1.6))

fig.savefig("out.png", dpi=100)
